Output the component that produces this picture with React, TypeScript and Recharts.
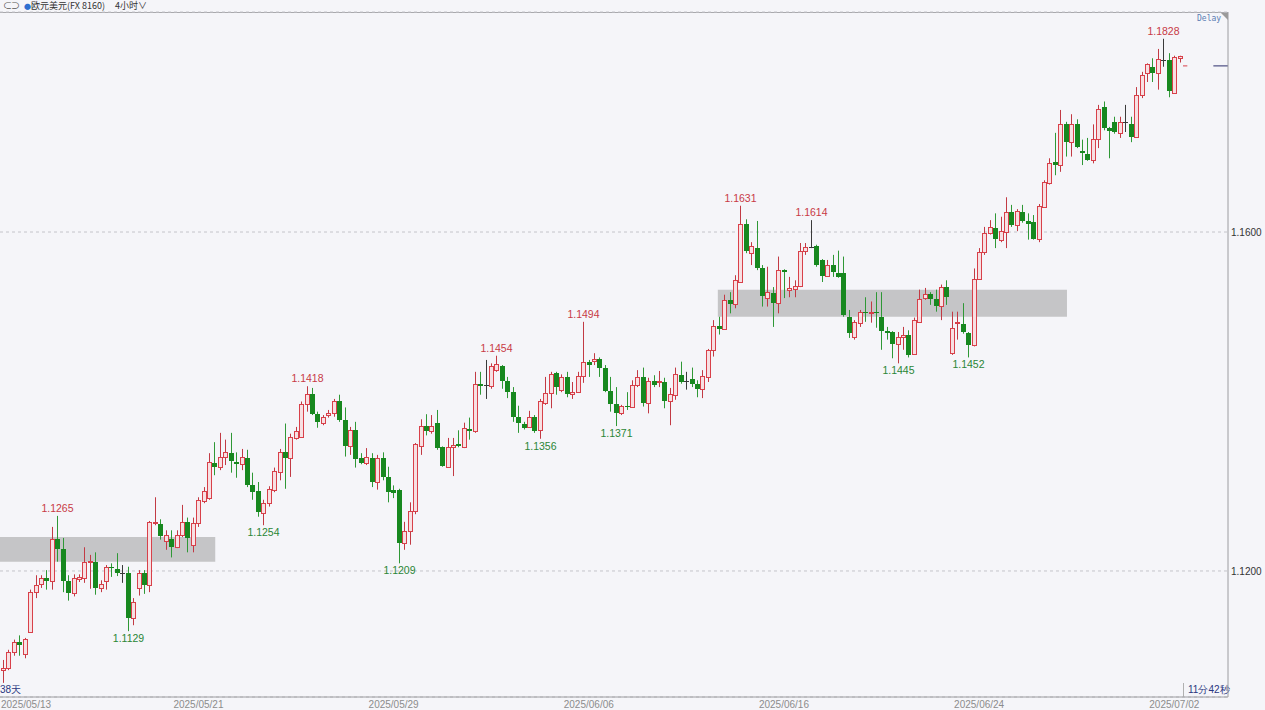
import React from "react";
import {
  ComposedChart,
  Bar,
  XAxis,
  YAxis,
  CartesianGrid,
  ReferenceArea,
  ReferenceLine,
} from "recharts";

// 4小时 K线，EUR/USD
const opens = [
  1.1083, 1.1086, 1.1104, 1.1116, 1.1102, 1.1128, 1.1175, 1.1185, 1.1192, 1.1188,
  1.1238, 1.1226, 1.1188, 1.1174, 1.1191, 1.1192, 1.1211, 1.1211, 1.118, 1.1188,
  1.1205, 1.1202, 1.1198, 1.1198, 1.1145, 1.118, 1.1198, 1.1184, 1.1257, 1.1255,
  1.1235, 1.1238, 1.1228, 1.1243, 1.1258, 1.1231, 1.1257, 1.1283, 1.1286, 1.1327,
  1.1323, 1.1335, 1.1339, 1.1329, 1.1326, 1.1333, 1.1302, 1.1294, 1.1268, 1.128,
  1.1296, 1.1317, 1.134, 1.1333, 1.1357, 1.1358, 1.1397, 1.1409, 1.1385, 1.1375,
  1.1384, 1.1386, 1.14, 1.1378, 1.1348, 1.1366, 1.1333, 1.1327, 1.1333, 1.1305,
  1.1333, 1.1311, 1.1295, 1.1296, 1.1233, 1.1247, 1.1271, 1.1348, 1.1371, 1.1365,
  1.1375, 1.1346, 1.1323, 1.1346, 1.135, 1.1346, 1.1368, 1.1365, 1.1421, 1.142,
  1.1418, 1.1437, 1.1442, 1.1424, 1.1411, 1.1382, 1.1374, 1.137, 1.1382, 1.1366,
  1.1398, 1.141, 1.1434, 1.1414, 1.1429, 1.1409, 1.1411, 1.143, 1.1447, 1.1448,
  1.145, 1.1439, 1.1412, 1.1397, 1.1386, 1.1395, 1.1394, 1.1419, 1.1429, 1.1398,
  1.1424, 1.1423, 1.1423, 1.14, 1.1408, 1.1431, 1.1424, 1.1426, 1.1421, 1.1415,
  1.1429, 1.1461, 1.1489, 1.1486, 1.152, 1.1515, 1.1541, 1.1609, 1.1575, 1.1581,
  1.1558, 1.1522, 1.1528, 1.1516, 1.1555, 1.1532, 1.1533, 1.1536, 1.1578, 1.1582,
  1.1584, 1.1567, 1.1548, 1.1561, 1.1552, 1.1552, 1.15, 1.1476, 1.1493, 1.1506,
  1.1505, 1.1506, 1.15, 1.1483, 1.1482, 1.1468, 1.1476, 1.1478, 1.1456, 1.1494,
  1.1522, 1.1527, 1.1521, 1.1513, 1.1535, 1.1457, 1.1493, 1.1492, 1.1481, 1.1467,
  1.1545, 1.1576, 1.1599, 1.1605, 1.159, 1.16, 1.1624, 1.1608, 1.1624, 1.1613,
  1.1612, 1.1592, 1.163, 1.1658, 1.1683, 1.1679, 1.1727, 1.1706, 1.1728, 1.1696,
  1.1692, 1.1685, 1.171, 1.1748, 1.1723, 1.173, 1.1717, 1.173, 1.1728, 1.1712,
  1.1762, 1.1788, 1.1795, 1.1788, 1.1803, 1.1803, 1.1764, 1.1805,
];

const highs = [
  1.1095, 1.1107, 1.1119, 1.1124, 1.1121, 1.1178, 1.1195, 1.1195, 1.1201, 1.1252,
  1.1265, 1.1239, 1.1195, 1.1196, 1.1196, 1.1228, 1.1219, 1.1222, 1.1189, 1.1207,
  1.1209, 1.1221, 1.1207, 1.1205, 1.1168, 1.1201, 1.1201, 1.1259, 1.1287, 1.1261,
  1.1248, 1.1248, 1.1248, 1.1278, 1.1263, 1.1263, 1.1287, 1.1299, 1.1339, 1.1352,
  1.1363, 1.1355, 1.1363, 1.134, 1.1344, 1.1343, 1.1316, 1.1305, 1.1284, 1.13,
  1.1322, 1.1344, 1.1374, 1.1362, 1.137, 1.14, 1.1418, 1.1416, 1.1388, 1.1384,
  1.139, 1.1403, 1.1408, 1.1393, 1.137, 1.1376, 1.1339, 1.1345, 1.1339, 1.1337,
  1.134, 1.1323, 1.1301, 1.1297, 1.1258, 1.1281, 1.1351, 1.1379, 1.1385, 1.1384,
  1.139, 1.1347, 1.1357, 1.1357, 1.1366, 1.1375, 1.1381, 1.1435, 1.1435, 1.1449,
  1.1445, 1.1454, 1.1443, 1.1429, 1.1417, 1.1395, 1.1376, 1.1389, 1.1384, 1.1403,
  1.1429, 1.1435, 1.1435, 1.1432, 1.1435, 1.1423, 1.1435, 1.1494, 1.1449, 1.1457,
  1.1452, 1.1443, 1.1429, 1.1417, 1.1396, 1.1411, 1.1425, 1.1437, 1.144, 1.1428,
  1.1431, 1.1436, 1.1428, 1.1416, 1.144, 1.1447, 1.1435, 1.144, 1.1425, 1.1437,
  1.1462, 1.1496, 1.15, 1.1526, 1.1529, 1.1549, 1.1631, 1.1615, 1.1588, 1.1613,
  1.1561, 1.1559, 1.1535, 1.1571, 1.1556, 1.1547, 1.1543, 1.1587, 1.1587, 1.1614,
  1.1585, 1.1568, 1.1567, 1.1573, 1.1578, 1.1571, 1.1508, 1.1496, 1.1508, 1.1523,
  1.1518, 1.1529, 1.1529, 1.1488, 1.1483, 1.1482, 1.1488, 1.1484, 1.1499, 1.1532,
  1.1534, 1.1529, 1.1532, 1.1538, 1.1543, 1.1506, 1.1506, 1.1516, 1.1482, 1.1557,
  1.1581, 1.1606, 1.1614, 1.1622, 1.1618, 1.1641, 1.1632, 1.1627, 1.1632, 1.1622,
  1.162, 1.1633, 1.1661, 1.1687, 1.1717, 1.1744, 1.173, 1.1739, 1.1733, 1.1709,
  1.1711, 1.1727, 1.175, 1.1754, 1.1724, 1.1736, 1.1736, 1.175, 1.1736, 1.1771,
  1.1789, 1.1799, 1.1805, 1.1816, 1.1828, 1.1811, 1.1808, 1.1808,
];

const lows = [
  1.1068, 1.1083, 1.11, 1.11, 1.1097, 1.1127, 1.1168, 1.118, 1.1178, 1.1178,
  1.1211, 1.1175, 1.1165, 1.117, 1.1187, 1.1186, 1.1179, 1.1172, 1.1175, 1.1178,
  1.1193, 1.1194, 1.1186, 1.1129, 1.1136, 1.1171, 1.1173, 1.1175, 1.1254, 1.1237,
  1.1225, 1.1216, 1.1227, 1.124, 1.1222, 1.1222, 1.1252, 1.128, 1.1284, 1.1313,
  1.1319, 1.1325, 1.1316, 1.131, 1.1319, 1.1299, 1.1284, 1.1264, 1.1254, 1.1276,
  1.1293, 1.1307, 1.1297, 1.1311, 1.1355, 1.1357, 1.1388, 1.1384, 1.1369, 1.1372,
  1.1381, 1.1382, 1.1376, 1.1335, 1.1337, 1.1322, 1.1326, 1.1325, 1.1299, 1.1296,
  1.1307, 1.1281, 1.1286, 1.1209, 1.1225, 1.1231, 1.1267, 1.1337, 1.136, 1.1362,
  1.1343, 1.1323, 1.1322, 1.1312, 1.1346, 1.1345, 1.1355, 1.1363, 1.1408, 1.1403,
  1.1415, 1.1435, 1.1415, 1.1404, 1.1376, 1.1363, 1.1367, 1.1369, 1.1363, 1.1356,
  1.1396, 1.1392, 1.1408, 1.1411, 1.1405, 1.1403, 1.141, 1.1422, 1.1429, 1.1443,
  1.1429, 1.1411, 1.1388, 1.1371, 1.1384, 1.139, 1.1393, 1.1417, 1.1394, 1.1386,
  1.1417, 1.1417, 1.1392, 1.1372, 1.1402, 1.1421, 1.1414, 1.1417, 1.1405, 1.1404,
  1.1423, 1.1453, 1.1479, 1.1485, 1.1504, 1.151, 1.154, 1.1575, 1.1561, 1.1555,
  1.1512, 1.1512, 1.1488, 1.1504, 1.1522, 1.1523, 1.1523, 1.1535, 1.1573, 1.1581,
  1.1559, 1.1541, 1.1547, 1.1547, 1.1546, 1.15, 1.1475, 1.1473, 1.1488, 1.1494,
  1.1493, 1.1487, 1.1461, 1.1473, 1.1451, 1.1445, 1.1461, 1.1452, 1.1455, 1.1493,
  1.152, 1.1514, 1.1506, 1.1496, 1.1514, 1.1455, 1.1473, 1.148, 1.1452, 1.1465,
  1.1544, 1.1573, 1.1597, 1.1581, 1.1588, 1.1581, 1.1606, 1.1601, 1.1611, 1.1591,
  1.1591, 1.1588, 1.1629, 1.1656, 1.1667, 1.1671, 1.1689, 1.1689, 1.1699, 1.1679,
  1.1684, 1.1681, 1.1699, 1.172, 1.1687, 1.1716, 1.1711, 1.1718, 1.1706, 1.1711,
  1.1758, 1.1777, 1.1777, 1.1768, 1.1795, 1.1759, 1.1763, 1.18,
];

const closes = [
  1.1086, 1.1104, 1.1116, 1.1113, 1.112, 1.1175, 1.1184, 1.1192, 1.1188, 1.1238,
  1.1226, 1.1188, 1.1174, 1.1192, 1.1193, 1.1211, 1.1212, 1.118, 1.1185, 1.1205,
  1.1204, 1.1198, 1.1198, 1.1145, 1.1163, 1.1198, 1.1184, 1.1258, 1.1258, 1.1241,
  1.1243, 1.1228, 1.1243, 1.1258, 1.1239, 1.1257, 1.1284, 1.1294, 1.1329, 1.1323,
  1.1335, 1.134, 1.133, 1.1326, 1.1335, 1.1302, 1.1293, 1.127, 1.128, 1.1297,
  1.1318, 1.134, 1.1333, 1.1358, 1.1365, 1.1397, 1.1409, 1.1385, 1.1376, 1.1382,
  1.1386, 1.14, 1.1378, 1.1348, 1.1366, 1.1332, 1.1327, 1.1335, 1.1305, 1.1333,
  1.1311, 1.1293, 1.1292, 1.1233, 1.1247, 1.1271, 1.135, 1.1371, 1.1365, 1.1371,
  1.1345, 1.1324, 1.1346, 1.1349, 1.1348, 1.1369, 1.1365, 1.1421, 1.1418, 1.142,
  1.1442, 1.1444, 1.1424, 1.1411, 1.1382, 1.1375, 1.1369, 1.1382, 1.1365, 1.14,
  1.141, 1.1433, 1.1417, 1.1429, 1.1409, 1.1411, 1.143, 1.1447, 1.1443, 1.145,
  1.1439, 1.1412, 1.1397, 1.1386, 1.1395, 1.1394, 1.142, 1.1429, 1.1398, 1.1424,
  1.142, 1.1424, 1.14, 1.1409, 1.1433, 1.1423, 1.1424, 1.1421, 1.1415, 1.143,
  1.1461, 1.1489, 1.1486, 1.152, 1.1515, 1.1543, 1.1609, 1.1578, 1.1584, 1.1558,
  1.1524, 1.1529, 1.1516, 1.1555, 1.1553, 1.1534, 1.1536, 1.1578, 1.1582, 1.1582,
  1.1561, 1.1548, 1.1561, 1.1553, 1.1547, 1.1502, 1.1481, 1.1494, 1.1506, 1.1505,
  1.1506, 1.1505, 1.1483, 1.1481, 1.1468, 1.1476, 1.1478, 1.1455, 1.1496, 1.1521,
  1.1527, 1.1521, 1.1513, 1.1535, 1.1523, 1.1487, 1.1494, 1.1482, 1.1467, 1.1545,
  1.1576, 1.1599, 1.1606, 1.1592, 1.1601, 1.1624, 1.1608, 1.1625, 1.1613, 1.1609,
  1.1592, 1.1631, 1.1659, 1.1681, 1.1679, 1.1727, 1.1706, 1.1728, 1.17, 1.1693,
  1.1685, 1.171, 1.1745, 1.1723, 1.1719, 1.1718, 1.173, 1.173, 1.1712, 1.1762,
  1.1785, 1.1798, 1.1788, 1.1804, 1.1803, 1.1766, 1.1807, 1.1808,
];

const dateLabels = ["2025/05/13", "2025/05/21", "2025/05/29", "2025/06/06", "2025/06/16", "2025/06/24", "2025/07/02"];
const dateTickIdx = [0, 36, 72, 108, 144, 180, 216];
const priceTicks = [1.12, 1.16];

// 标注的高低点（K线序号）
const highMarks = [10, 56, 91, 107, 136, 149, 214];
const lowMarks = [23, 48, 73, 99, 113, 165, 178];

// 灰色区间
const zoneX1 = [-0.6, 131.8];
const zoneX2 = [39.1, 196.2];
const zoneLow = [1.1211, 1.15];
const zoneHigh = [1.124, 1.1532];

const lastPrice = 1.1796;

const UP = "#d8404a";
const UP_WICK = "#c23a44";
const UP_FILL = "#f7e0e3";
const DOWN = "#17881f";
const DOWN_WICK = "#2f9836";
const DOJI = "#3a3a3a";
const FONT = "'Liberation Sans', Arial, sans-serif";

const data = opens.map((o, i) => ({
  i,
  o,
  h: highs[i],
  l: lows[i],
  c: closes[i],
  range: [lows[i], highs[i]],
}));

const Candle = (props: any) => {
  const { x, y, width, height, payload } = props;
  if (!payload || height == null) return null;
  const { o, h, l, c, i } = payload;
  const k = height / (h - l);
  const py = (v: number) => y + (h - v) * k;
  const left = Math.round(x + width / 2) - 2;
  const mid = left + 2.5;
  const top = Math.round(py(Math.max(o, c)));
  const bot = Math.round(py(Math.min(o, c)));
  let color = DOJI;
  let body: React.ReactNode;
  if (o === c) {
    body = <line x1={left} x2={left + 5} y1={top + 0.5} y2={top + 0.5} stroke={DOJI} />;
  } else if (c > o) {
    color = UP_WICK;
    body = (
      <rect x={left + 0.5} y={top + 0.5} width={4} height={Math.max(1, bot - top)} fill={UP_FILL} stroke={UP} />
    );
  } else {
    color = DOWN_WICK;
    body = <rect x={left} y={top} width={5} height={Math.max(1, bot - top)} fill={DOWN} />;
  }
  return (
    <g>
      <line x1={mid} x2={mid} y1={py(h)} y2={py(l)} stroke={color} strokeWidth={1} />
      {body}
      {highMarks.includes(i) && (
        <text x={mid} y={py(h) - 4} textAnchor="middle" fontSize={10.5} fill="#c83a45" fontFamily={FONT}>
          {h.toFixed(4)}
        </text>
      )}
      {lowMarks.includes(i) && (
        <text x={mid} y={py(l) + 11} textAnchor="middle" fontSize={10.5} fill="#2a8636" fontFamily={FONT}>
          {l.toFixed(4)}
        </text>
      )}
    </g>
  );
};

const DateTick = (props: any) => {
  const { x, payload, index } = props;
  const label = dateLabels[dateTickIdx.indexOf(payload.value)];
  return (
    <text
      x={index === 0 ? 1 : x}
      y={708}
      textAnchor={index === 0 ? "start" : "middle"}
      fontSize={10}
      fill="#8c8c8c"
      fontFamily={FONT}
    >
      {label}
    </text>
  );
};

const App: React.FC = () => {
  return (
    <div style={{ position: "relative", width: 1265, height: 710, background: "#f5f5f9", overflow: "hidden" }}>
      <style>{"body{margin:0;background:#f5f5f9}"}</style>
      <div
        style={{
          position: "absolute",
          left: 0,
          top: 0,
          width: 1228,
          height: 12,
          borderBottom: "1px solid #a9a9ad",
          fontFamily: "'Noto Sans CJK SC', sans-serif",
          fontSize: 9,
          lineHeight: "12px",
          color: "#333",
          whiteSpace: "nowrap",
        }}
      >
        <span style={{ marginLeft: 3, color: "#555", letterSpacing: -1 }}>⊂⊃</span>
        <span style={{ marginLeft: 5, color: "#2e6fd0", fontSize: 7 }}>●</span>
        <span>欧元美元(FX 8160)</span>
        <span style={{ marginLeft: 10 }}>4小时∨</span>
      </div>
      <div
        style={{
          position: "absolute",
          left: 1221,
          top: 13,
          width: 0,
          height: 0,
          borderLeft: "7px solid transparent",
          borderTop: "7px solid #9a9a9a",
        }}
      />
      <div
        style={{
          position: "absolute",
          left: 1197,
          top: 14,
          fontFamily: "'DejaVu Sans Mono', monospace",
          fontSize: 8,
          color: "#5a7db3",
        }}
      >
        Delay
      </div>
      <div style={{ position: "absolute", left: 0, top: 683, fontSize: 10, fontFamily: FONT, color: "#2a3580" }}>38天</div>
      <div
        style={{
          position: "absolute",
          left: 1183,
          top: 683,
          paddingLeft: 4,
          borderLeft: "1px solid #b0b0b0",
          fontSize: 10,
          fontFamily: FONT,
          color: "#2a3580",
        }}
      >
        11分42秒
      </div>
      <ComposedChart width={1265} height={710} data={data} margin={{ top: 12, right: 0, bottom: 0, left: 0 }}>
        <CartesianGrid vertical={false} stroke="#c4c4ca" strokeDasharray="3 3" />
        <XAxis
          type="number"
          dataKey="i"
          domain={[-0.6, 225.9]}
          allowDataOverflow
          ticks={dateTickIdx}
          interval={0}
          tick={<DateTick />}
          tickLine={false}
          tickSize={0}
          axisLine={{ stroke: "#9c9ca0" }}
          height={13}
        />
        <YAxis
          orientation="right"
          domain={[1.10513, 1.18596]}
          allowDataOverflow
          ticks={priceTicks}
          tickFormatter={(v: number) => v.toFixed(4)}
          tickLine={false}
          tickSize={0}
          tickMargin={3}
          axisLine={{ stroke: "#9c9ca0" }}
          width={37}
          tick={{ fontSize: 10, fill: "#333", fontFamily: FONT }}
        />
        {zoneX1.map((x1, k) => (
          <ReferenceArea
            key={`zone-${k}`}
            x1={x1}
            x2={zoneX2[k]}
            y1={zoneLow[k]}
            y2={zoneHigh[k]}
            fill="#c2c2c4"
            fillOpacity={0.95}
            stroke="none"
          />
        ))}
        <Bar dataKey="range" barSize={5} shape={<Candle />} isAnimationActive={false} />
        <ReferenceLine
          segment={[
            { x: 223.2, y: lastPrice },
            { x: 225.9, y: lastPrice },
          ]}
          stroke="#2b2d6b"
        />
        <ReferenceLine
          segment={[
            { x: 217.6, y: lastPrice },
            { x: 218.4, y: lastPrice },
          ]}
          stroke={UP}
        />
      </ComposedChart>
    </div>
  );
};

export default App;
